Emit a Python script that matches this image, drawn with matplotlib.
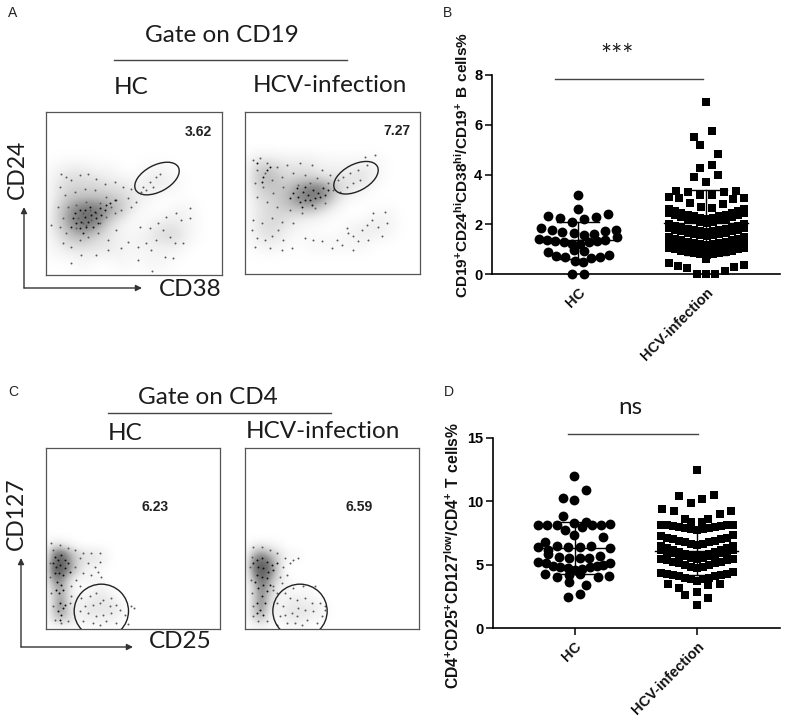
import numpy as np
import matplotlib
matplotlib.use("Agg")
import matplotlib.pyplot as plt
from matplotlib.patches import Ellipse

plt.rcParams["font.family"] = ["Liberation Sans", "DejaVu Sans"]
plt.rcParams["mathtext.fontset"] = "custom"
plt.rcParams["mathtext.bf"] = "Liberation Sans:bold"
plt.rcParams["mathtext.rm"] = "Liberation Sans:bold"
plt.rcParams["mathtext.default"] = "bf"

W, H = 800, 721
TICK_LABELS = ["HC", "HCV-infection"]

# --- panel B, y in percent, x is only the spread of the swarm ---
b_hc_x = [414, 414, 323, 360, 432, 468, 504, 396, 301, 334, 366, 400, 430, 462, 494, 526,
          296, 320, 345, 370, 395, 420, 445, 470, 495, 530,
          322, 348, 374, 430, 400, 452, 478, 505, 403, 428, 396, 432]
b_hc_y = [3.16, 2.60, 2.35, 2.26, 2.23, 2.31, 2.41, 2.09, 1.83, 1.75, 1.70, 1.65, 1.58, 1.62, 1.71, 1.75,
          1.39, 1.35, 1.31, 1.27, 1.22, 1.22, 1.27, 1.31, 1.38, 1.47,
          0.87, 0.72, 0.70, 0.91, 0.98, 0.66, 0.70, 0.78, 0.52, 0.48, 0.0, 0.0]
b_hcv_x = [798, 817, 763, 781, 835, 781, 817, 835, 763, 798,
           709, 744, 852, 888, 781, 817, 686, 717, 880, 912, 751, 848, 783, 815,
           686, 714, 742, 770, 798, 826, 855, 883, 911, 798]
b_hcv_y = [6.93, 5.75, 5.51, 5.18, 4.84, 4.27, 4.37, 3.99, 3.89, 3.71,
           3.33, 3.29, 3.29, 3.33, 3.17, 3.17, 3.08, 3.05, 3.02, 3.05, 2.86, 2.81, 2.70, 2.65,
           0.43, 0.34, 0.23, 0.0, 0.0, 0.0, 0.13, 0.29, 0.36, 0.60]
b_band_x = [686, 705, 724, 743, 762, 781, 800, 819, 838, 857, 876, 895, 912]
b_bands = [
    [2.60, 2.53, 2.46, 2.39, 2.32, 2.26, 2.22, 2.26, 2.32, 2.39, 2.46, 2.53, 2.62],
    [2.44, 2.37, 2.30, 2.23, 2.16, 2.10, 2.06, 2.10, 2.16, 2.23, 2.30, 2.37, 2.46],
    [2.00, 1.94, 1.88, 1.82, 1.76, 1.71, 1.67, 1.71, 1.76, 1.82, 1.88, 1.94, 2.02],
    [1.84, 1.78, 1.72, 1.66, 1.60, 1.55, 1.51, 1.55, 1.60, 1.66, 1.72, 1.78, 1.86],
    [1.48, 1.42, 1.36, 1.30, 1.24, 1.19, 1.15, 1.19, 1.24, 1.30, 1.36, 1.42, 1.50],
    [1.33, 1.27, 1.21, 1.15, 1.09, 1.04, 1.00, 1.04, 1.09, 1.15, 1.21, 1.27, 1.35],
    [1.04, 0.99, 0.93, 0.88, 0.83, 0.79, 0.76, 0.79, 0.83, 0.88, 0.93, 0.99, 1.06],
]
b_stats = [(1.35, 0.74), (2.07, 1.31)]  # mean, sd

# --- panel D ---
d_hc_x = [402, 436, 367, 402, 367, 293, 321, 349, 402, 436, 426, 455, 482, 510,
          375, 402, 487, 315, 293, 322, 350, 384, 418, 453, 510,
          324, 357, 385, 418, 447, 478,
          294, 316, 338, 360, 382, 404, 426, 448, 470, 488, 508,
          315, 349, 385, 420, 472, 505, 385, 436, 419, 384]
d_hc_y = [11.98, 10.87, 10.27, 10.14, 8.88, 8.14, 8.14, 8.14, 8.30, 8.33, 7.99, 8.12, 8.14, 8.20,
          7.70, 7.36, 7.20, 6.78, 6.36, 6.17, 6.46, 6.41, 6.41, 6.46, 6.30,
          5.83, 5.60, 5.54, 5.54, 5.49, 5.70,
          5.25, 5.10, 4.91, 4.83, 4.70, 4.57, 4.62, 4.78, 4.89, 4.96, 5.15,
          4.26, 4.02, 4.18, 4.23, 4.02, 4.12, 3.60, 3.41, 2.65, 2.42]
d_hcv_x = [770, 718, 822, 787, 753, 667, 701, 873, 839, 736, 804, 787, 753,
           684, 718, 736, 770, 804, 839, 804, 770]
d_hcv_y = [12.48, 10.45, 10.53, 10.19, 9.88, 9.40, 9.27, 9.27, 8.98, 8.64, 8.64, 8.38, 8.38,
           3.44, 3.15, 2.57, 2.86, 3.39, 3.47, 2.36, 1.84]
d_band_x = [664, 682, 700, 718, 736, 754, 770, 788, 806, 824, 842, 860, 878]
d_bands = [
    [8.17, 8.10, 8.02, 7.95, 7.87, 7.80, 7.72, 7.80, 7.87, 7.95, 8.02, 8.10, 8.17],
    [7.25, 7.12, 7.00, 6.88, 6.76, 6.62, 6.52, 6.62, 6.76, 6.88, 7.00, 7.12, 7.35],
    [6.46, 6.30, 6.15, 6.00, 5.85, 5.72, 5.75, 5.72, 5.85, 6.00, 6.15, 6.30, 6.46],
    [6.15, 6.00, 5.90, 5.75, 5.65, 5.55, 5.47, 5.55, 5.65, 5.75, 5.90, 6.00, 6.15],
    [5.45, 5.35, 5.25, 5.12, 4.98, 4.85, 4.72, 4.85, 4.98, 5.12, 5.25, 5.35, 5.45],
    [4.38, 4.28, 4.18, 4.08, 3.96, 3.85, 3.75, 3.85, 3.96, 4.08, 4.18, 4.28, 4.40],
]
d_stats = [(6.30, 2.07), (6.07, 1.90)]

# --- flow plots: how dark each area looks (0-9), rows from the top ---
a_hc_density = [
    [1, 2, 2, 1, 1, 0, 0, 1, 1, 0, 0],
    [2, 3, 3, 3, 2, 2, 1, 2, 2, 1, 0],
    [2, 4, 4, 4, 4, 3, 2, 1, 0, 0, 0],
    [3, 6, 8, 8, 6, 4, 1, 0, 0, 1, 1],
    [3, 6, 8, 7, 3, 1, 0, 1, 2, 2, 1],
    [2, 4, 5, 3, 2, 1, 1, 2, 3, 3, 1],
    [1, 2, 2, 2, 2, 1, 1, 1, 1, 1, 0],
    [0, 0, 1, 0, 0, 1, 0, 1, 1, 0, 0],
]
a_hcv_density = [
    [3, 3, 2, 2, 2, 1, 1, 1, 1, 1, 0],
    [4, 5, 3, 3, 3, 2, 2, 2, 3, 1, 0],
    [3, 4, 4, 6, 8, 8, 4, 2, 1, 0, 0],
    [2, 3, 4, 6, 7, 5, 2, 0, 0, 0, 0],
    [2, 3, 3, 2, 2, 1, 0, 0, 0, 1, 1],
    [2, 3, 2, 1, 0, 0, 0, 1, 2, 2, 1],
    [1, 2, 1, 0, 1, 1, 1, 1, 1, 0, 0],
]
c_hc_density = [
    [2, 2, 1, 0, 0, 0, 0, 0, 0, 0],
    [6, 8, 5, 3, 2, 2, 1, 0, 0, 0],
    [7, 9, 6, 3, 2, 2, 1, 0, 0, 0],
    [8, 9, 6, 3, 1, 1, 0, 0, 0, 0],
    [6, 7, 3, 1, 1, 1, 0, 0, 0, 0],
    [4, 6, 2, 0, 0, 1, 1, 0, 0, 0],
    [3, 6, 2, 1, 1, 2, 2, 1, 0, 0],
    [3, 7, 2, 1, 2, 2, 2, 2, 1, 0],
    [3, 6, 3, 1, 2, 2, 2, 2, 1, 0],
    [2, 3, 2, 1, 1, 1, 1, 1, 0, 0],
]
c_hcv_density = [
    [2, 3, 2, 1, 0, 0, 0, 0, 0],
    [5, 7, 5, 3, 1, 1, 0, 0, 0],
    [7, 9, 7, 3, 0, 0, 0, 0, 0],
    [6, 9, 7, 3, 0, 0, 0, 0, 0],
    [4, 8, 5, 2, 1, 0, 0, 0, 0],
    [3, 7, 4, 1, 1, 0, 1, 0, 0],
    [3, 7, 3, 1, 1, 2, 1, 1, 0],
    [3, 7, 2, 1, 2, 2, 2, 2, 1],
    [3, 5, 1, 1, 2, 2, 2, 1, 1],
    [1, 2, 1, 0, 1, 1, 1, 0, 0],
]

# single events that stand out from the cloud
a_hc_dots = [(185, 490), (200, 500), (215, 510), (240, 495), (265, 490), (290, 505), (315, 520), (345, 515),
             (370, 530), (395, 535), (180, 530), (195, 555), (225, 545), (255, 535), (285, 540), (320, 560),
             (350, 570), (385, 565), (410, 575), (175, 590), (190, 625), (205, 590), (230, 585), (260, 575),
             (300, 580), (335, 590), (365, 600), (395, 590), (155, 645), (180, 650), (200, 670), (230, 655),
             (250, 640), (275, 630), (300, 640), (320, 620), (345, 610), (240, 690), (265, 680), (295, 670),
             (325, 690), (350, 660), (190, 700), (215, 710), (245, 735), (290, 735), (325, 720), (365, 715),
             (385, 695), (415, 710), (440, 700), (420, 650), (450, 655), (475, 640), (500, 620), (530, 610),
             (545, 630), (570, 595), (572, 625), (490, 660), (510, 680), (525, 700), (550, 700), (470, 690),
             (455, 720), (495, 740), (520, 745), (415, 750), (215, 758), (457, 782), (430, 530), (450, 515),
             (470, 500), (480, 490), (425, 545), (460, 530), (440, 540), (250, 610), (270, 600), (290, 610),
             (235, 625), (260, 645)]
a_hcv_dots = [(760, 450), (780, 445), (800, 460), (830, 470), (860, 465), (900, 460), (935, 465), (965, 480),
              (990, 495), (1015, 510), (770, 480), (795, 490), (815, 510), (845, 500), (880, 490), (915, 495),
              (950, 505), (985, 520), (765, 520), (790, 530), (820, 550), (850, 530), (895, 525), (930, 520),
              (1000, 540), (1030, 500), (1050, 490), (1075, 480), (1100, 465), (1125, 435), (1095, 440),
              (1060, 520), (1040, 530), (1080, 510), (1020, 545), (770, 560), (800, 575), (830, 590), (870, 600),
              (905, 610), (945, 595), (975, 580), (760, 630), (785, 640), (815, 625), (845, 635), (880, 640),
              (755, 660), (770, 685), (795, 690), (815, 680), (835, 660), (850, 690), (765, 712), (810, 715),
              (845, 720), (875, 715), (915, 685), (940, 690), (965, 695), (995, 715), (1025, 705), (1010, 690),
              (1040, 655), (1060, 680), (1075, 695), (1060, 720), (1100, 645), (1115, 630), (1135, 650),
              (1160, 640), (1155, 605), (1120, 610), (1145, 680), (1105, 690), (1085, 660), (1045, 670)]
c_hc_dots = [(155, 460), (180, 465), (205, 475), (225, 480), (250, 490), (275, 490), (300, 490), (300, 515),
             (285, 530), (265, 520), (240, 505), (225, 530), (250, 550), (275, 555), (295, 545), (305, 560),
             (230, 570), (215, 590), (240, 590), (160, 480), (150, 520), (152, 560), (155, 610), (160, 650),
             (165, 690), (185, 700), (205, 695), (210, 640), (215, 620), (245, 625), (270, 620), (290, 610),
             (310, 630), (335, 625), (350, 645), (330, 650), (300, 640), (280, 645), (255, 650), (240, 665),
             (265, 670), (290, 680), (310, 675), (335, 670), (360, 660), (375, 675), (395, 650), (403, 655),
             (250, 695), (280, 700), (320, 695), (350, 700), (385, 702), (300, 705)]
c_hcv_dots = [(760, 470), (785, 470), (810, 480), (830, 490), (855, 505), (880, 510), (895, 505), (870, 520),
              (850, 530), (840, 560), (860, 555), (845, 580), (820, 590), (755, 500), (750, 530), (752, 570),
              (755, 610), (760, 650), (760, 680), (775, 695), (800, 695), (820, 600), (830, 610), (855, 610),
              (880, 595), (910, 590), (945, 590), (830, 640), (850, 650), (870, 625), (890, 630), (915, 625),
              (935, 640), (960, 640), (975, 660), (965, 680), (940, 665), (915, 660), (895, 655), (875, 670),
              (855, 675), (840, 680), (890, 680), (885, 700), (920, 690), (950, 700), (860, 700), (905, 705),
              (830, 705), (975, 650)]

# dark events inside the densest part of each cloud
a_hc_core = [(225, 610), (240, 600), (255, 620), (270, 590), (285, 605), (300, 595), (315, 600), (330, 580),
             (345, 570), (230, 640), (245, 635), (260, 650), (275, 615), (290, 625), (305, 615), (220, 625),
             (265, 635), (280, 650), (240, 655), (255, 600), (295, 640), (320, 585), (250, 670), (215, 650)]
a_hcv_core = [(880, 550), (895, 560), (910, 545), (925, 555), (940, 540), (955, 550), (970, 535), (985, 540),
              (900, 575), (915, 570), (930, 570), (945, 565), (960, 560), (890, 535), (915, 530), (935, 585),
              (870, 565), (905, 590), (975, 555), (800, 480), (790, 500), (770, 460), (810, 470), (785, 515)]
c_hc_core = [(165, 500), (175, 510), (185, 495), (195, 510), (170, 530), (182, 525), (195, 535), (165, 550),
             (178, 550), (190, 555), (205, 520), (172, 575), (185, 585), (178, 610), (190, 600), (182, 640),
             (190, 655), (175, 665), (195, 645), (185, 675), (160, 520), (210, 545), (168, 600), (180, 690)]
c_hcv_core = [(770, 510), (785, 505), (800, 515), (815, 525), (775, 530), (790, 535), (805, 545), (820, 540),
              (770, 555), (785, 560), (800, 565), (790, 585), (775, 595), (800, 605), (785, 620), (770, 640),
              (795, 640), (780, 660), (790, 675), (770, 670), (760, 520), (830, 520), (810, 585), (765, 575)]


def px_axes(fig, left, top, right, bottom):
    return fig.add_axes([left / W, 1 - bottom / H, (right - left) / W, (bottom - top) / H])


def flow_panel(fig, box, xlim, ylim, density, extent, dots, core, gate, number, number_xy):
    ax = px_axes(fig, *box)
    # a row and column of zeros round the grid so the cloud fades out at its edge
    shade = np.pad(np.array(density, dtype=float), 1)
    nrow, ncol = shade.shape
    cw = (extent[1] - extent[0]) / (ncol - 2)
    ch = (extent[2] - extent[3]) / (nrow - 2)
    ax.imshow(shade, cmap="Greys", vmin=0, vmax=12, interpolation="bicubic", aspect="auto", zorder=1,
              extent=(extent[0] - cw, extent[1] + cw, extent[2] + ch, extent[3] - ch))
    ax.scatter(*zip(*dots), s=2.0, color="#5a5a5a", linewidths=0, zorder=2)
    ax.scatter(*zip(*core), s=2.0, color="#111111", linewidths=0, zorder=2)
    ax.add_patch(Ellipse(gate[:2], gate[2], gate[3], angle=gate[4], fill=False, edgecolor="#222222",
                         linewidth=1.0, zorder=3))
    ax.set_xlim(*xlim)
    ax.set_ylim(*ylim)
    ax.set_xticks([])
    ax.set_yticks([])
    for s in ax.spines.values():
        s.set_color("#555555")
        s.set_linewidth(0.9)
    ax.text(*number_xy, number, ha="center", va="center", fontsize=10, fontweight="bold", color="#222222")


def swarm_panel(fig, box, xlim, ticks, ylim, yticks, hc, hcv, bands, band_x, stats, tick_len):
    ax = px_axes(fig, *box)
    ax.scatter(hc[0], hc[1], s=50, marker="o", color="black", linewidths=0, clip_on=False, zorder=3)
    ax.scatter(hcv[0], hcv[1], s=39, marker="s", color="black", linewidths=0, clip_on=False, zorder=3)
    for row in bands:
        ax.scatter(band_x, row, s=39, marker="s", color="black", linewidths=0, clip_on=False, zorder=3)
    # mean line and sd bars
    spans = [117, 125]
    for pos, (mean, sd), span in zip(ticks, stats, spans):
        ax.plot([pos - span, pos + span], [mean, mean], color="black", lw=1, zorder=4)
        ax.plot([pos, pos], [mean - sd, mean + sd], color="black", lw=1, zorder=4)
        for y in (mean - sd, mean + sd):
            ax.plot([pos - 62, pos + 62], [y, y], color="black", lw=1, zorder=4)
    ax.set_xlim(*xlim)
    ax.set_ylim(*ylim)
    ax.set_yticks(yticks)
    ax.set_xticks(ticks)
    ax.set_xticklabels(TICK_LABELS, rotation=45, ha="right", va="top", rotation_mode="anchor",
                       fontsize=10.5, fontweight="bold", color="#111111")
    ax.tick_params(axis="y", labelsize=10.5, width=1.1, length=5, pad=2)
    ax.tick_params(axis="x", width=1.1, length=tick_len, pad=8 - tick_len)
    for label in ax.get_yticklabels():
        label.set_fontweight("bold")
    ax.spines["top"].set_visible(False)
    ax.spines["right"].set_visible(False)
    ax.spines["left"].set_linewidth(1.2)
    ax.spines["bottom"].set_linewidth(1.2)
    ax.patch.set_alpha(0)
    return ax


fig = plt.figure(figsize=(W / 100, H / 100), dpi=100)

# page layer for the loose text and arrows, in pixels
page = fig.add_axes([0, 0, 1, 1])
page.set_xlim(0, W)
page.set_ylim(H, 0)
page.axis("off")

flow_panel(fig, (46, 112, 222, 275), (139, 667), (795, 305), a_hc_density, (150, 590, 780, 460), a_hc_dots,
           a_hc_core, (472, 505, 145, 80, -28), "3.62", (595, 365))
flow_panel(fig, (245, 112, 420, 274), (735, 1260), (793, 305), a_hcv_density, (750, 1190, 720, 440), a_hcv_dots,
           a_hcv_core, (1068, 503, 145, 80, -28), "7.27", (1190, 362))
flow_panel(fig, (46, 448, 220, 629), (139, 661), (718, 173), c_hc_density, (145, 405, 710, 450), c_hc_dots,
           c_hc_core, (305, 664, 163, 162, 0), "6.23", (466, 352))
flow_panel(fig, (245, 448, 419, 629), (735, 1257), (718, 173), c_hcv_density, (745, 979, 718, 458), c_hcv_dots,
           c_hcv_core, (900, 664, 163, 162, 0), "6.59", (1078, 350))

swarm_panel(fig, (492, 75, 780, 274), (155, 1020), [413, 798], (0, 8), [0, 2, 4, 6, 8],
            (b_hc_x, b_hc_y), (b_hcv_x, b_hcv_y), b_bands, b_band_x, b_stats, 0)
swarm_panel(fig, (493, 438, 780, 628), (158, 1020), [403, 770], (0, 15), [0, 5, 10, 15],
            (d_hc_x, d_hc_y), (d_hcv_x, d_hcv_y), d_bands, d_band_x, d_stats, 5)

big = dict(family=["Lato", "DejaVu Sans"], ha="center", va="center", color="#1c1c1c")
for x, y, s in [(222, 35, "Gate on CD19"), (131, 87, "HC"), (330, 85, "HCV-infection"), (190, 290, "CD38"),
                (208, 397, "Gate on CD4"), (125, 433, "HC"), (323, 432, "HCV-infection"), (180, 642, "CD25"),
                (630, 407, "ns")]:
    page.text(x, y, s, fontsize=17.5, **big)
page.text(17, 169, "CD24", fontsize=16.5, rotation=90, **big)
page.text(16, 514, "CD127", fontsize=16.5, rotation=90, **big)
page.text(617, 57, "***", fontsize=19, **big)

for x, y, s in [(13, 13, "A"), (448, 13, "B"), (13, 392, "C"), (449, 392, "D")]:
    page.text(x, y, s, fontsize=10, ha="center", va="center", color="#222222")

for x0, x1, y in [(114, 347, 60), (108, 331, 413), (555, 703, 79), (568, 698, 434)]:
    page.plot([x0, x1], [y, y], color="#444444", lw=1)

for corner, top, right in [((24, 288), 207, 142), ((21, 647), 558, 133)]:
    page.annotate("", xy=(corner[0], top), xytext=corner,
                  arrowprops=dict(arrowstyle="-|>", color="#333333", lw=1, mutation_scale=9, shrinkA=0, shrinkB=0))
    page.annotate("", xy=(right, corner[1]), xytext=corner,
                  arrowprops=dict(arrowstyle="-|>", color="#333333", lw=1, mutation_scale=9, shrinkA=0, shrinkB=0))

page.text(462, 165, r"$\mathbf{CD19^{+}CD24^{hi}CD38^{hi}/CD19^{+}\ B\ cells\%}$", rotation=90,
          fontsize=11.1, ha="center", va="center", color="#111111")
page.text(453, 555, r"$\mathbf{CD4^{+}CD25^{+}CD127^{low}/CD4^{+}\ T\ cells\%}$", rotation=90,
          fontsize=11.3, ha="center", va="center", color="#111111")

fig.savefig("out.png", dpi=100)
